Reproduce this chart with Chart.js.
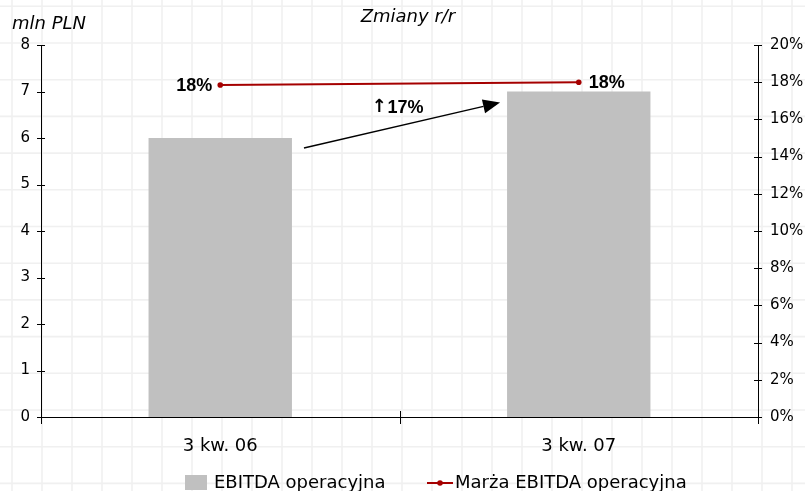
<!DOCTYPE html>
<html>
<head>
<meta charset="utf-8">
<script src="https://cdn.jsdelivr.net/npm/chart.js@4"></script>
<style>
html,body{margin:0;padding:0;background:#fff;}
#wrap{width:805px;height:491px;position:relative;}
</style>
</head>
<body>
<div id="wrap"><canvas id="c" width="805" height="491"></canvas></div>
<script>
const categories = ['3 kw. 06', '3 kw. 07'];
const ebitdaValues = [6, 7];            // mln PLN
const marginValues = [17.85, 18.0];      // %
const leftTicks = [0, 1, 2, 3, 4, 5, 6, 7, 8];
const rightTicks = [0, 2, 4, 6, 8, 10, 12, 14, 16, 18, 20];
const seriesNames = ['EBITDA operacyjna', 'Marża EBITDA operacyjna'];
const chartTitle = 'Zmiany r/r';
const unitLabel = 'mln PLN';

const BAR_COLOR = '#c0c0c0';
const LINE_COLOR = '#a50000';

Chart.defaults.font.family = 'DejaVu Sans';
Chart.defaults.color = '#000';

const paperPlugin = {
  id: 'paper',
  beforeDraw(chart) {
    const ctx = chart.ctx;
    ctx.save();
    ctx.fillStyle = '#ffffff';
    ctx.fillRect(0, 0, chart.width, chart.height);
    ctx.strokeStyle = '#f0f0f0';
    ctx.lineWidth = 1.6;
    for (let x = 12; x < chart.width; x += 30) {
      ctx.beginPath(); ctx.moveTo(x, 0); ctx.lineTo(x, chart.height); ctx.stroke();
    }
    for (let y = 6.3; y < chart.height; y += 36.7) {
      ctx.beginPath(); ctx.moveTo(0, y); ctx.lineTo(chart.width, y); ctx.stroke();
    }
    ctx.restore();
  }
};

const decorPlugin = {
  id: 'decor',
  afterDatasetsDraw(chart) {
    const ctx = chart.ctx;
    const xS = chart.scales.x, yS = chart.scales.y, y1S = chart.scales.y1;
    ctx.save();
    ctx.strokeStyle = '#000';
    ctx.lineWidth = 1;
    // crossing tick marks on value axes
    yS.ticks.forEach((t, i) => {
      const py = Math.round(yS.getPixelForTick(i)) + 0.5;
      ctx.beginPath(); ctx.moveTo(yS.right - 4, py); ctx.lineTo(yS.right + 4, py); ctx.stroke();
    });
    y1S.ticks.forEach((t, i) => {
      const py = Math.round(y1S.getPixelForTick(i)) + 0.5;
      ctx.beginPath(); ctx.moveTo(y1S.left - 4, py); ctx.lineTo(y1S.left + 4, py); ctx.stroke();
    });
    // category boundary ticks
    const n = categories.length;
    for (let i = 0; i <= n; i++) {
      const px = Math.round(xS.left + i * (xS.width / n)) + 0.5;
      ctx.beginPath(); ctx.moveTo(px, xS.top - 6); ctx.lineTo(px, xS.top + 7); ctx.stroke();
    }

    // margin labels
    const lineMeta = chart.getDatasetMeta(1);
    ctx.font = 'bold 18px "Liberation Sans"';
    ctx.fillStyle = '#000';
    ctx.textBaseline = 'middle';
    lineMeta.data.forEach((pt, i) => {
      const txt = Math.round(marginValues[i]) + '%';
      if (i === 0) { ctx.textAlign = 'right'; ctx.fillText(txt, pt.x - 8, pt.y + 1); }
      else { ctx.textAlign = 'left'; ctx.fillText(txt, pt.x + 10, pt.y + 1); }
    });

    // growth arrow between bars
    const barMeta = chart.getDatasetMeta(0);
    const b0 = barMeta.data[0], b1 = barMeta.data[1];
    const sx = b0.x + b0.width / 2 + 12, sy = b0.y + 10;
    const ex = b1.x - b1.width / 2 - 7, ey = b1.y + 11;
    const ang = Math.atan2(ey - sy, ex - sx);
    const headLen = 17, headW = 7;
    const bx = ex - headLen * Math.cos(ang), by = ey - headLen * Math.sin(ang);
    ctx.lineWidth = 1.4;
    ctx.beginPath(); ctx.moveTo(sx, sy); ctx.lineTo(bx, by); ctx.stroke();
    ctx.beginPath();
    ctx.moveTo(ex, ey);
    ctx.lineTo(bx + headW * Math.sin(ang), by - headW * Math.cos(ang));
    ctx.lineTo(bx - headW * Math.sin(ang), by + headW * Math.cos(ang));
    ctx.closePath(); ctx.fill();

    const growth = Math.round((ebitdaValues[1] - ebitdaValues[0]) / ebitdaValues[0] * 100);
    const midX = (xS.left + xS.right) / 2;
    const ty = b1.y + 17;
    ctx.textBaseline = 'middle';
    ctx.textAlign = 'left';
    ctx.font = 'bold 18px "Liberation Sans"';
    ctx.fillText(growth + '%', midX - 12, ty);
    ctx.textAlign = 'right';
    ctx.font = 'bold 18px "DejaVu Sans"';
    ctx.fillText('\u2191', midX - 13, ty - 1);
    ctx.restore();
  },
  afterDraw(chart) {
    const ctx = chart.ctx;
    ctx.save();
    ctx.fillStyle = '#000';
    ctx.textBaseline = 'middle';
    // title
    ctx.font = 'italic 18px "DejaVu Sans"';
    ctx.textAlign = 'center';
    ctx.fillText(chartTitle, 408, 17);
    // unit label
    ctx.textAlign = 'left';
    ctx.fillText(unitLabel, 12, 24);

    // legend
    const ly = 483;
    ctx.font = '18px "DejaVu Sans"';
    ctx.fillStyle = chart.data.datasets[0].backgroundColor;
    ctx.fillRect(185, ly - 8, 22, 15);
    ctx.fillStyle = '#000';
    ctx.fillText(chart.data.datasets[0].label, 214, ly);

    const lc = chart.data.datasets[1].borderColor;
    ctx.strokeStyle = lc; ctx.lineWidth = 2;
    ctx.beginPath(); ctx.moveTo(427, ly); ctx.lineTo(453, ly); ctx.stroke();
    ctx.fillStyle = lc;
    ctx.beginPath(); ctx.arc(440, ly, 2.8, 0, Math.PI * 2); ctx.fill();
    ctx.fillStyle = '#000';
    ctx.fillText(chart.data.datasets[1].label, 455, ly);
    ctx.restore();
  }
};

new Chart(document.getElementById('c'), {
  data: {
    labels: categories,
    datasets: [
      {
        type: 'bar',
        label: seriesNames[0],
        data: ebitdaValues,
        backgroundColor: BAR_COLOR,
        borderWidth: 0,
        barPercentage: 0.4,
        categoryPercentage: 1.0,
        yAxisID: 'y',
        order: 2
      },
      {
        type: 'line',
        label: seriesNames[1],
        data: marginValues,
        borderColor: LINE_COLOR,
        backgroundColor: LINE_COLOR,
        borderWidth: 2,
        pointRadius: 2.8,
        pointBackgroundColor: LINE_COLOR,
        pointBorderWidth: 0,
        tension: 0,
        yAxisID: 'y1',
        order: 1
      }
    ]
  },
  options: {
    responsive: false,
    animation: false,
    devicePixelRatio: 1,
    layout: { padding: { top: 45 } },
    plugins: {
      legend: { display: false },
      tooltip: { enabled: false },
      title: { display: false }
    },
    scales: {
      x: {
        type: 'category',
        offset: true,
        grid: { display: false, drawTicks: false },
        border: { display: true, color: '#000', width: 1 },
        ticks: { font: { size: 18 }, padding: 19, color: '#000' },
        afterFit(s) { s.height = 74; }
      },
      y: {
        type: 'linear',
        position: 'left',
        min: leftTicks[0],
        max: leftTicks[leftTicks.length - 1],
        grid: { display: false, drawTicks: false },
        border: { display: true, color: '#000', width: 1 },
        ticks: { stepSize: 1, font: { size: 15 }, padding: 11, color: '#000' },
        afterBuildTicks(s) { s.ticks = leftTicks.map(v => ({ value: v })); },
        afterFit(s) { s.width = 41; }
      },
      y1: {
        type: 'linear',
        position: 'right',
        min: rightTicks[0],
        max: rightTicks[rightTicks.length - 1],
        grid: { display: false, drawTicks: false },
        border: { display: true, color: '#000', width: 1 },
        ticks: { stepSize: 2, font: { size: 15 }, padding: 12, color: '#000', callback: v => v + '%' },
        afterBuildTicks(s) { s.ticks = rightTicks.map(v => ({ value: v })); },
        afterFit(s) { s.width = 47; }
      }
    }
  },
  plugins: [paperPlugin, decorPlugin]
});
</script>
</body>
</html>
